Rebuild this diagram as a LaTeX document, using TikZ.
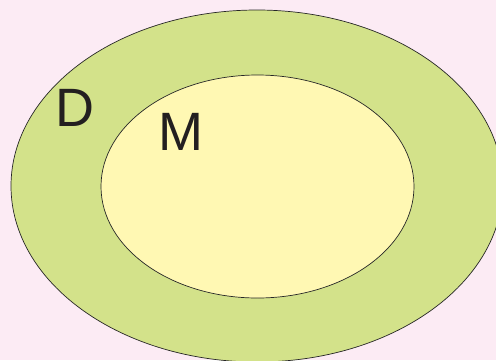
\documentclass[tikz,border=0pt]{standalone}
\usepackage{fontspec}
\setmainfont{Liberation Sans}
\definecolor{bgpink}{HTML}{FCEBF4}
\definecolor{outergreen}{HTML}{D3E28A}
\definecolor{inneryellow}{HTML}{FFF8B3}
\definecolor{txt}{HTML}{231F20}
\tikzset{
  region/.style={draw=black!85, line width=0.7pt},
  lbl/.style={text=txt, font=\fontsize{54}{54}\selectfont, inner sep=0pt}
}
\begin{document}
\begin{tikzpicture}[x=1pt,y=-1pt]
\path[fill=bgpink,use as bounding box] (0,0) rectangle (496,360);
\begin{scope}
\clip (0,0) rectangle (496,360);
\draw[region, fill=outergreen] (257,186) ellipse [x radius=246, y radius=176];
\draw[region, fill=inneryellow] (257.5,186.5) ellipse [x radius=156.5, y radius=111.5];
\end{scope}
\node[lbl] (D) at (75,108) {D};
\node[lbl] (M) at (181,132) {M};
\end{tikzpicture}
\end{document}
